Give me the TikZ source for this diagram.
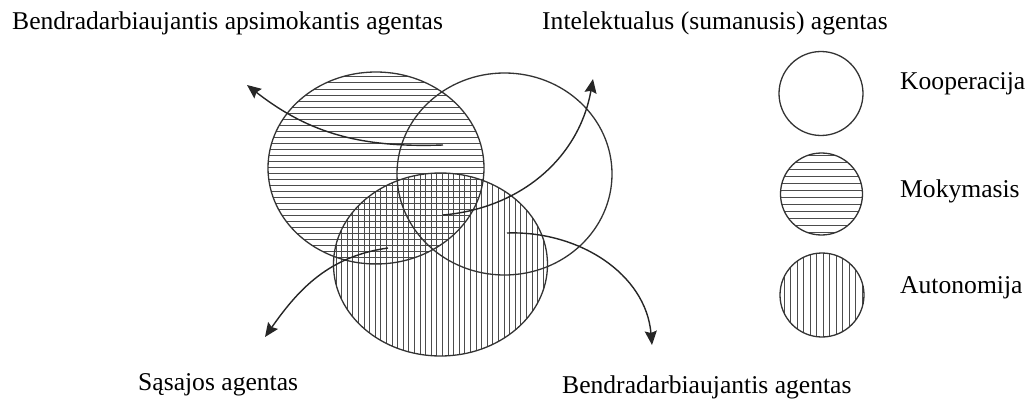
\documentclass[tikz,border=0pt]{standalone}
\usepackage{fontspec}
\setmainfont{Liberation Serif}
\usetikzlibrary{arrows.meta}

\begin{document}
\begin{tikzpicture}[x=1pt, y=1pt,
    rim/.style = {draw=black!80, line width=1.3pt},
    hatch/.style = {draw=black!70, line width=1pt},
    caption/.style = {anchor=base west, inner sep=0pt, font=\fontsize{25.6}{30}\selectfont},
    flow/.style = {-{Stealth[length=14pt, width=12pt, inset=2pt]}, line width=1.4pt, black!85}]
    \useasboundingbox (0,0) rectangle (1029,400);

    % mokymasis (horizontal hatching)
    \begin{scope}
        \clip (376,232) ellipse [x radius=108, y radius=96];
        \foreach \y in {137,143,...,329} \draw[hatch] (266,\y) -- (486,\y);
    \end{scope}
    % autonomija (vertical hatching)
    \begin{scope}
        \clip (440.5,135.5) ellipse [x radius=107, y radius=91.5];
        \foreach \x in {336,341.6,...,548} \draw[hatch] (\x,42) -- (\x,229);
    \end{scope}

    \draw[rim] (376,232) ellipse [x radius=108, y radius=96];
    \draw[rim] (504.5,226) ellipse [x radius=107.5, y radius=101];
    \draw[rim] (440.5,135.5) ellipse [x radius=107, y radius=91.5];

    % arrows
    \coordinate (s1) at (443,255);
    \coordinate (e1) at (247,315);
    \coordinate (s2) at (443,185);
    \coordinate (e2) at (593,321);
    \coordinate (s3) at (388,152);
    \coordinate (e3) at (265,63);
    \coordinate (s4) at (507,167);
    \coordinate (e4) at (652,55);

    \draw[flow] (s1) to[out=182, in=-38] (e1);
    \draw[flow] (s2) to[out=5, in=-100] (e2);
    \draw[flow] (s3) to[out=188, in=55] (e3);
    \draw[flow] (s4) to[out=2, in=95] (e4);

    % legend
    \draw[rim] (821,306.5) circle [radius=42];
    \begin{scope}
        \clip (821.5,206) circle [radius=41];
        \foreach \y in {168,175,...,248} \draw[hatch] (778,\y) -- (866,\y);
    \end{scope}
    \draw[rim] (821.5,206) circle [radius=41];
    \begin{scope}
        \clip (822,105) circle [radius=42];
        \foreach \x in {784,790.5,...,866} \draw[hatch] (\x,60) -- (\x,150);
    \end{scope}
    \draw[rim] (822,105) circle [radius=42];

    \node[caption] (koop) at (900,310) {Kooperacija};
    \node[caption] (moky) at (900,203) {Mokymasis};
    \node[caption] (auto) at (900,107) {Autonomija};

    % agent labels
    \node[caption] (bendapsi) at (12,370) {Bendradarbiaujantis apsimokantis agentas};
    \node[caption] (intel) at (542,370) {Intelektualus (sumanusis) agentas};
    \node[caption] (sasaj) at (138,10) {Sąsajos agentas};
    \node[caption] (bend) at (562,7) {Bendradarbiaujantis agentas};
\end{tikzpicture}
\end{document}
